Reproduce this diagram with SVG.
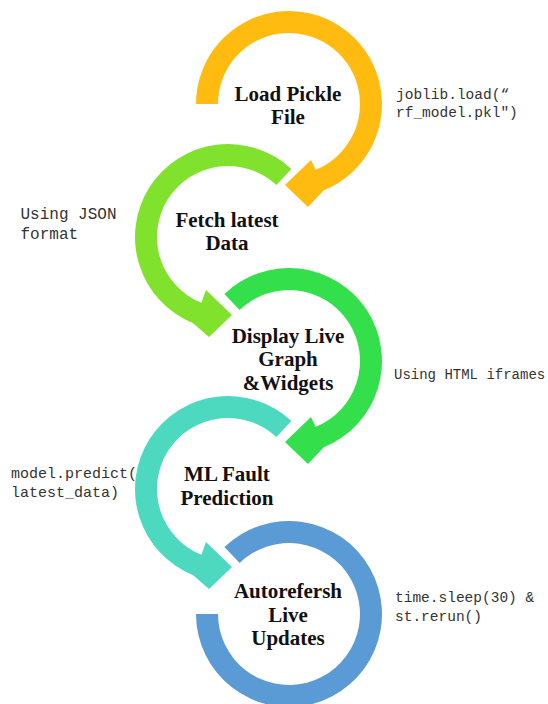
<svg xmlns="http://www.w3.org/2000/svg" width="548" height="704" viewBox="0 0 548 704">
  <style>
    .title { font-family: "Liberation Serif", "Times New Roman", serif; font-weight: bold; font-size: 21px; fill: #111111; text-anchor: middle; }
    .code { font-family: "Liberation Mono", "DejaVu Sans Mono", monospace; font-size: 14.5px; fill: #333333; }
  </style>
  <rect width="548" height="704" fill="#ffffff"/>

  <!-- Step 1: load the trained model -->
  <g id="load-pickle">
    <path fill="#FFBB0F" d="M196,104 A93,93 0 1 1 323.84,190.23 L308,207 L285,185 L311,160 L315.6,169.83 A71,71 0 1 0 218,104 Z"/>
    <text class="title" x="288" y="100.75">Load Pickle</text>
    <text class="title" x="288" y="124.25">File</text>
    <text class="code" x="396" y="99.3">joblib.load(“</text>
    <text class="code" x="396" y="116.7">rf_model.pkl")</text>
  </g>

  <!-- Step 2: pull the newest readings -->
  <g id="fetch-data">
    <path fill="#80E22C" d="M291.43,168.98 A93,93 0 1 0 193.16,323.23 L209,337 L232,315 L206,290 L201.4,302.83 A71,71 0 1 1 276.42,185.07 Z"/>
    <text class="title" x="227" y="226.85">Fetch latest</text>
    <text class="title" x="227" y="250.35">Data</text>
    <text class="code" x="20.5" y="219.3" style="font-size:16px">Using JSON</text>
    <text class="code" x="20.5" y="239.3" style="font-size:16px">format</text>
  </g>

  <!-- Step 3: dashboard view -->
  <g id="display-graph">
    <path fill="#33E04C" d="M224.4,294.1 A93,93 0 1 1 323.84,447.23 L308,464 L285,442 L311,417 L315.6,426.83 A71,71 0 1 0 239.68,309.93 Z"/>
    <text class="title" x="288" y="342.5">Display Live</text>
    <text class="title" x="288" y="366">Graph</text>
    <text class="title" x="288" y="389.5">&amp;Widgets</text>
    <text class="code" x="394" y="379.3" style="font-size:14px">Using HTML iframes</text>
  </g>

  <!-- Step 4: run the classifier -->
  <g id="ml-prediction">
    <path fill="#4DD9C0" d="M291.43,420.98 A93,93 0 1 0 193.16,575.23 L209,589 L232,567 L206,542 L201.4,554.83 A71,71 0 1 1 276.42,437.07 Z"/>
    <text class="title" x="227" y="481.25">ML Fault</text>
    <text class="title" x="227" y="504.75">Prediction</text>
    <text class="code" x="11" y="477.7" style="font-size:15px">model.predict(</text>
    <text class="code" x="11" y="497.3" style="font-size:15px">latest_data)</text>
  </g>

  <!-- Step 5: periodic refresh loop -->
  <g id="autorefresh">
    <path fill="#5B9BD5" d="M224.4,547.1 A93,93 0 1 1 196,614 L218,614 A71,71 0 1 0 239.68,562.93 Z"/>
    <text class="title" x="288" y="598.2">Autorefersh</text>
    <text class="title" x="288" y="621.7">Live</text>
    <text class="title" x="288" y="645.2">Updates</text>
    <text class="code" x="395" y="602.3">time.sleep(30) &amp;</text>
    <text class="code" x="395" y="621">st.rerun()</text>
  </g>

  <g id="connectors"/>
</svg>
